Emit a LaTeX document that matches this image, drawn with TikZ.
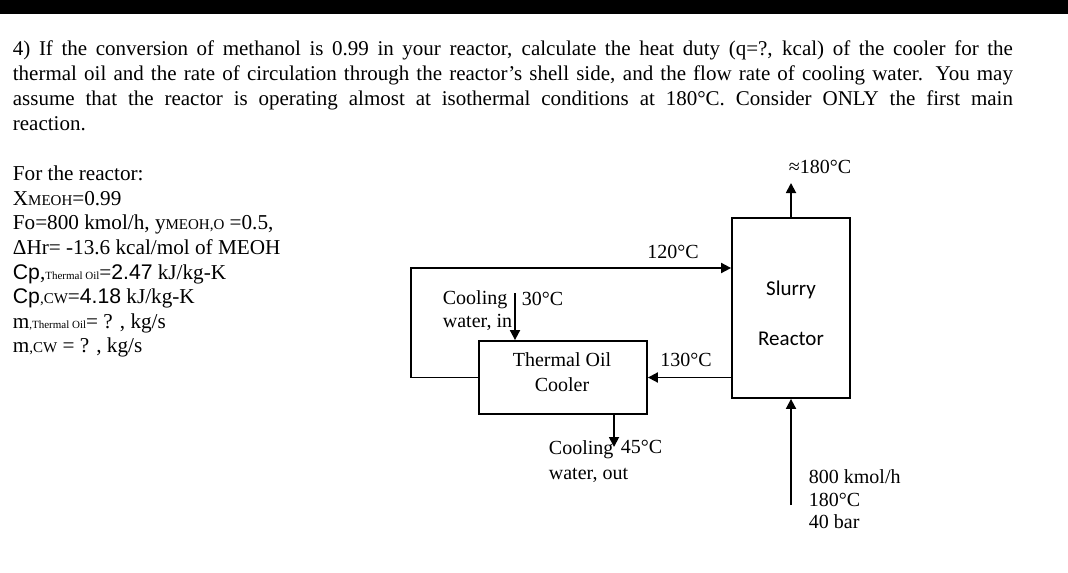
\documentclass[tikz,border=0pt]{standalone}
\usepackage{fontspec}
\setmainfont{Liberation Serif}
\newfontfamily\calib{Carlito}
\newfontfamily\arialf{Liberation Sans}
\usetikzlibrary{arrows.meta,positioning}

\newcommand{\sbs}[1]{{\fontsize{7.5}{8}\selectfont #1}}
\newcommand{\tsb}[1]{{\fontsize{5.5}{6}\selectfont #1}}

\begin{document}
\begin{tikzpicture}[x=0.5pt,y=-0.5pt, line width=0.9pt,
    >={Triangle[length=5pt,width=5pt]},
    unit/.style={draw, inner sep=0pt},
    lbl/.style={font=\fontsize{10}{11.3}\selectfont, inner sep=0pt}]
    \useasboundingbox (0,0) rectangle (1068,572);
    \fill (0,0) rectangle (1068,14);

    % problem statement
    \node[anchor=north west, inner sep=0pt, text width=500pt, align=justify,
        font=\fontsize{10.5}{12.4}\selectfont] (task) at (12,40)
        {4) If the conversion of methanol is 0.99 in your reactor, calculate the heat duty (q=?, kcal) of the cooler for the\linebreak
        thermal oil and the rate of circulation through the reactor’s shell side, and the flow rate of cooling water. You may\linebreak
        assume that the reactor is operating almost at isothermal conditions at 180°C. Consider ONLY the first main\linebreak
        reaction.};

    % data
    \node[anchor=north west, inner sep=0pt, align=left,
        font=\fontsize{10.6}{12.3}\selectfont] (data) at (12,165)
        {For the reactor:\\
        X\sbs{MEOH}=0.99\\
        Fo=800 kmol/h, y\sbs{MEOH,O} =0.5,\\
        ΔHr= -13.6 kcal/mol of MEOH\\
        {\arialf Cp},\tsb{Thermal Oil}={\arialf 2.47} kJ/kg-K\\
        {\arialf Cp}\sbs{,CW}={\arialf 4.18} kJ/kg-K\\
        m\tsb{,Thermal Oil}= ? , kg/s\\
        m\sbs{,CW} = ? , kg/s};

    % units
    \node[unit, minimum width=59pt, minimum height=90pt] (reactor) at (791,308) {};
    \node[lbl, font=\calib\fontsize{10.5}{12}\selectfont] (slurry) at (791,290) {Slurry};
    \node[lbl, font=\calib\fontsize{10.5}{12}\selectfont] (reac) at (791,339) {Reactor};
    \node[unit, minimum width=84pt, minimum height=36.5pt] (cooler) at (563,377.5) {};
    \node[lbl] (oil) at (562,360) {Thermal Oil};
    \node[lbl] (cool) at (562,385) {Cooler};

    \coordinate (tl) at (411,268);
    \coordinate (bl) at (411,378);
    \coordinate (top) at (791,183);
    \coordinate (feed) at (791,505);
    \coordinate (cwin) at (515,293);
    \coordinate (cwout) at (614,447);

    % streams
    \draw[->] (cooler.west) -- (cooler.west -| bl) -- (tl) -- (tl -| reactor.west);
    \draw[->] (reactor.west |- cooler.east) -- (cooler.east);
    \draw[->] (reactor.north) -- (top);
    \draw[->] (feed) -- (reactor.south);
    \draw[->] (cwin) -- (cwin |- cooler.north);
    \draw[->] (cwout |- cooler.south) -- (cwout);

    % labels
    \node[lbl, anchor=base] (t120) at (673,258) {120°C};
    \node[lbl, anchor=base] (t130) at (686,366) {130°C};
    \node[lbl, anchor=base] (t180) at (820,174) {≈180°C};
    \node[lbl, anchor=north west, align=left] (cwi) at (442,290) {Cooling\\water, in};
    \node[lbl, anchor=base west] (t30) at (521,305) {30°C};
    \node[lbl, anchor=north west, align=left, font=\fontsize{10}{12.5}\selectfont] (cwo) at (548,440) {Cooling\\water, out};
    \node[lbl, anchor=base west] (t45) at (620,453) {45°C};
    \node[lbl, anchor=north west, align=left] (feedlbl) at (808,469) {800 kmol/h\\180°C\\40 bar};
\end{tikzpicture}
\end{document}
